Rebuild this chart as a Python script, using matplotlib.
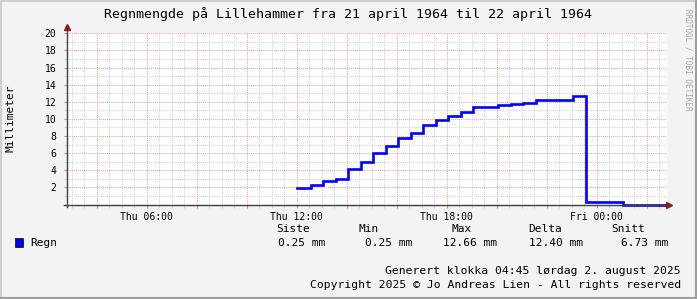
import numpy as np
import matplotlib
matplotlib.use('Agg')
from matplotlib import pyplot as plt
from matplotlib.patches import Rectangle
from matplotlib.ticker import FuncFormatter

# hours since Thu 00:00, rain (mm) from that time on
times = [12.0, 12.56, 13.06, 13.56, 14.06, 14.56, 15.06, 15.56, 16.06, 16.56,
         17.06, 17.56, 18.06, 18.56, 19.06, 19.56, 20.06, 20.56, 21.06, 21.56,
         22.06, 22.56, 23.06, 23.56, 24.06, 24.56, 25.06]
rain = [1.92, 2.30, 2.73, 2.93, 4.13, 4.97, 6.02, 6.83, 7.73, 8.34,
        9.27, 9.82, 10.32, 10.86, 11.36, 11.36, 11.59, 11.71, 11.91, 12.16,
        12.16, 12.16, 12.66, 0.25, 0.25, 0.25, 0.0]
t_start, t_end = 2.8, 26.8

stat_names = ['Siste', 'Min', 'Max', 'Delta', 'Snitt']
stat_values = ['0.25 mm', '0.25 mm', '12.66 mm', '12.40 mm', '6.73 mm']

title = 'Regnmengde på Lillehammer fra 21 april 1964 til 22 april 1964'
footer = ['Generert klokka 04:45 lørdag 2. august 2025',
          'Copyright 2025 \u00a9 Jo Andreas Lien - All rights reserved']

W, H = 697, 299
mono = 'DejaVu Sans Mono'


def fx(px):
    return px / W


def fy(py):
    return 1 - py / H


fig = plt.figure(figsize=(W / 100, H / 100), dpi=100, facecolor='#f3f3f3')

# 3d-ish frame like rrdtool
fig.patches.append(Rectangle((0, 0), 1, 1, transform=fig.transFigure, fill=False,
                             lw=0, zorder=0))
fig.add_artist(plt.Line2D([fx(1), fx(1)], [0, 1], color='#cfcfcf', lw=1.5))
fig.add_artist(plt.Line2D([0, 1], [fy(1), fy(1)], color='#cfcfcf', lw=1.5))
fig.add_artist(plt.Line2D([fx(W - 1), fx(W - 1)], [0, 1], color='#9e9e9e', lw=1.5))
fig.add_artist(plt.Line2D([0, 1], [fy(H - 1), fy(H - 1)], color='#9e9e9e', lw=1.5))

ax = fig.add_axes([fx(66.7), fy(204.5), fx(600), (204.5 - 33.3) / H])
ax.set_facecolor('white')
ax.set_xlim(t_start, t_end)
ax.set_ylim(0, 20)
for s in ax.spines.values():
    s.set_visible(False)

ax.set_xticks(np.arange(4, 27, 2))
ax.set_xticks(np.arange(3, 27, 0.5), minor=True)
ax.set_yticks(np.arange(2, 21, 2))
ax.set_yticks(np.arange(1, 20, 1), minor=True)
ax.grid(which='minor', color='#d2d2d2', ls=(0, (1, 1)), lw=0.75)
ax.grid(which='major', color='#eba3a3', ls=(0, (1, 1)), lw=0.75)
ax.set_axisbelow(True)


def xlab(h, pos):
    h = int(round(h))
    if h % 6:
        return ''
    day = 'Thu' if h < 24 else 'Fri'
    return f'{day} {h % 24:02d}:00'


ax.xaxis.set_major_formatter(FuncFormatter(xlab))
ax.tick_params(axis='x', which='major', length=2.5, color='#e08080', pad=3,
               labelsize=7)
ax.tick_params(axis='x', which='minor', length=2, color='#c8c8c8')
ax.tick_params(axis='y', which='major', length=2.5, color='#e08080', pad=5,
               labelsize=7)
ax.tick_params(axis='y', which='minor', length=2, color='#c8c8c8')
for lab in ax.get_xticklabels() + ax.get_yticklabels():
    lab.set_fontfamily(mono)

# data
ax.plot(times + [t_end], rain + [0.0], drawstyle='steps-post', color='#0000ff',
        lw=1.9, clip_on=False, zorder=3, solid_joinstyle='miter')

# axes with arrows
ax.plot([t_start, t_start], [-0.35, 20.6], color='#404040', lw=1, clip_on=False, zorder=4)
ax.plot([t_start - 0.12, t_end + 0.05], [0, 0], color='#404040', lw=1, clip_on=False, zorder=4)
ax.plot(t_start, 20.7, marker='^', ms=4.5, color='#8b1a1a', clip_on=False, zorder=5)
ax.plot(t_end + 0.1, 0, marker='>', ms=4.5, color='#8b1a1a', clip_on=False, zorder=5)

fig.text(fx(348), fy(14), title, fontsize=9.5, family=mono, ha='center', va='center')
fig.text(fx(11), fy(118), 'Millimeter', fontsize=8, family=mono, rotation=90,
         ha='center', va='center')
fig.text(fx(688), fy(60), 'RRDTOOL / TOBI OETIKER', fontsize=5.5, family=mono,
         rotation=270, ha='center', va='center', color='#a8a8a8')

# legend
fig.patches.append(Rectangle((fx(15), fy(247)), fx(8), 9 / H, transform=fig.transFigure,
                             facecolor='#0000ff', edgecolor='#000000', lw=0.5))
fig.text(fx(30), fy(243), 'Regn', fontsize=8, family=mono, va='center')
name_x = [276, 359, 451, 528, 611]
val_x = [325, 412, 497, 583, 668]
for nm, v, nx, vx in zip(stat_names, stat_values, name_x, val_x):
    fig.text(fx(nx), fy(229), nm, fontsize=8, family=mono, va='center')
    fig.text(fx(vx), fy(243), v, fontsize=8, family=mono, va='center', ha='right')

fig.text(fx(681), fy(271), footer[0], fontsize=8.2, family=mono, va='center', ha='right')
fig.text(fx(681), fy(285), footer[1], fontsize=8.2, family=mono, va='center', ha='right')

fig.savefig('out.png', dpi=100, facecolor=fig.get_facecolor())
